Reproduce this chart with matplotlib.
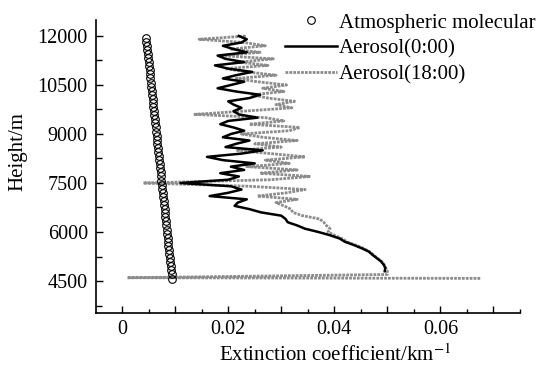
import matplotlib
matplotlib.use("Agg")
import matplotlib.pyplot as plt
from matplotlib.ticker import MultipleLocator, FuncFormatter

plt.rcParams["font.family"] = ["Liberation Serif", "DejaVu Serif"]
plt.rcParams["mathtext.fontset"] = "stix"

# molecular extinction profile (circles)
mol_height = [4575, 4700, 4825, 4950, 5075, 5200, 5325, 5450, 5575, 5700,
              5825, 5950, 6075, 6200, 6325, 6450, 6575, 6700, 6825, 6950,
              7075, 7200, 7325, 7450, 7575, 7700, 7825, 7950, 8075, 8200,
              8325, 8450, 8575, 8700, 8825, 8950, 9075, 9200, 9325, 9450,
              9575, 9700, 9825, 9950, 10075, 10200, 10325, 10450, 10575, 10700,
              10825, 10950, 11075, 11200, 11325, 11450, 11575, 11700, 11825, 11950]
mol_ext = [0.00940, 0.00932, 0.00923, 0.00915, 0.00907, 0.00899, 0.00890, 0.00882, 0.00874, 0.00865,
           0.00857, 0.00849, 0.00840, 0.00832, 0.00824, 0.00816, 0.00807, 0.00799, 0.00791, 0.00782,
           0.00774, 0.00766, 0.00757, 0.00749, 0.00741, 0.00733, 0.00724, 0.00716, 0.00708, 0.00699,
           0.00691, 0.00683, 0.00674, 0.00666, 0.00658, 0.00650, 0.00641, 0.00633, 0.00625, 0.00616,
           0.00608, 0.00600, 0.00591, 0.00583, 0.00575, 0.00567, 0.00558, 0.00550, 0.00542, 0.00533,
           0.00525, 0.00517, 0.00508, 0.00500, 0.00492, 0.00484, 0.00475, 0.00467, 0.00459, 0.00450]

# aerosol 0:00
h_0000 = [4800, 4900, 5000, 5100, 5200, 5300, 5400, 5500, 5600, 5700,
          5800, 5900, 6000, 6100, 6200, 6300, 6400, 6500, 6600, 6700,
          6800, 6900, 7000, 7100, 7200, 7300, 7400, 7500, 7600, 7700,
          7800, 7900, 8000, 8100, 8200, 8300, 8400, 8500, 8600, 8700,
          8800, 8900, 9000, 9100, 9200, 9300, 9400, 9500, 9600, 9700,
          9800, 9900, 10000, 10100, 10200, 10300, 10400, 10500, 10600, 10700,
          10800, 10900, 11000, 11100, 11200, 11300, 11400, 11500, 11600, 11700,
          11800, 11900, 12000]
ext_0000 = [0.0495, 0.0496, 0.0493, 0.0488, 0.0480, 0.0472, 0.0465, 0.0452, 0.0437, 0.0420,
            0.0410, 0.0392, 0.0370, 0.0345, 0.0330, 0.0312, 0.0308, 0.0300, 0.0262, 0.0240,
            0.0212, 0.0218, 0.0235, 0.0165, 0.0200, 0.0225, 0.0205, 0.0110, 0.0200, 0.0220,
            0.0185, 0.0230, 0.0205, 0.0250, 0.0190, 0.0160, 0.0225, 0.0265, 0.0195, 0.0215,
            0.0240, 0.0190, 0.0205, 0.0230, 0.0210, 0.0185, 0.0200, 0.0255, 0.0220, 0.0210,
            0.0225, 0.0210, 0.0200, 0.0240, 0.0260, 0.0215, 0.0180, 0.0205, 0.0230, 0.0190,
            0.0215, 0.0245, 0.0200, 0.0175, 0.0230, 0.0195, 0.0180, 0.0235, 0.0210, 0.0190,
            0.0225, 0.0235, 0.0220]

# aerosol 18:00
h_1800 = [4580, 4600, 4700, 4800, 4900, 5000, 5100, 5200, 5300, 5400,
          5500, 5600, 5700, 5800, 5900, 6000, 6100, 6200, 6300, 6400,
          6500, 6600, 6700, 6800, 6900, 7000, 7100, 7200, 7300, 7400,
          7500, 7600, 7700, 7800, 7900, 8000, 8100, 8200, 8300, 8400,
          8500, 8600, 8700, 8800, 8900, 9000, 9100, 9200, 9300, 9400,
          9500, 9600, 9700, 9800, 9900, 10000, 10100, 10200, 10300, 10400,
          10500, 10600, 10700, 10800, 10900, 11000, 11100, 11200, 11300, 11400,
          11500, 11600, 11700, 11800, 11900, 12000]
ext_1800 = [0.0675, 0.0010, 0.0500, 0.0500, 0.0497, 0.0494, 0.0489, 0.0481, 0.0474, 0.0466,
            0.0455, 0.0440, 0.0424, 0.0414, 0.0400, 0.0388, 0.0392, 0.0385, 0.0380, 0.0372,
            0.0340, 0.0322, 0.0318, 0.0305, 0.0290, 0.0330, 0.0255, 0.0310, 0.0345, 0.0240,
            0.0040, 0.0280, 0.0355, 0.0260, 0.0330, 0.0235, 0.0315, 0.0270, 0.0345, 0.0280,
            0.0215, 0.0300, 0.0250, 0.0330, 0.0265, 0.0225, 0.0315, 0.0335, 0.0240, 0.0305,
            0.0270, 0.0135, 0.0230, 0.0320, 0.0290, 0.0325, 0.0275, 0.0245, 0.0305, 0.0265,
            0.0310, 0.0255, 0.0215, 0.0290, 0.0235, 0.0195, 0.0275, 0.0220, 0.0285, 0.0185,
            0.0260, 0.0205, 0.0270, 0.0230, 0.0145, 0.0235]

fig = plt.figure(figsize=(5.4, 3.7), dpi=100)
ax = fig.add_axes([0.178, 0.154, 0.785, 0.792])

ax.plot(mol_ext, mol_height, "o", mfc="none", mec="black", ms=5.5, mew=0.8,
        label="Atmospheric molecular", zorder=3)
ax.plot(ext_0000, h_0000, color="black", lw=1.8, label="Aerosol(0:00)", zorder=2)
ax.plot(ext_1800, h_1800, color="0.55", lw=2.0, linestyle=(0, (1.0, 0.4)),
        label="Aerosol(18:00)", zorder=1)

ax.set_xlim(-0.0049, 0.075)
ax.set_ylim(3520, 12490)

for side in ["top", "right"]:
    ax.spines[side].set_visible(False)
ax.spines["left"].set_linewidth(1.2)
ax.spines["bottom"].set_linewidth(1.2)

ax.xaxis.set_major_locator(MultipleLocator(0.01))
ax.xaxis.set_minor_locator(MultipleLocator(0.005))
ax.xaxis.set_major_formatter(FuncFormatter(
    lambda v, p: ("0" if abs(v) < 1e-9 else f"{v:.2f}") if round(v * 100) % 2 == 0 else ""))
ax.yaxis.set_major_locator(MultipleLocator(1500))
ax.yaxis.set_minor_locator(MultipleLocator(750))

ax.tick_params(which="both", direction="in", labelsize=14.5, width=1)
ax.tick_params(axis="x", which="major", length=5, pad=5)
ax.tick_params(axis="x", which="minor", length=3)
ax.tick_params(axis="y", which="major", length=5, pad=6)
ax.tick_params(axis="y", which="minor", length=4)

ax.set_ylabel("Height/m", fontsize=15)
ax.yaxis.set_label_coords(-0.163, 0.55)
ax.set_xlabel("Extinction coefficient/km$^{-1}$", fontsize=15)
ax.xaxis.set_label_coords(0.564, -0.108)

leg = fig.legend(loc="upper left", bbox_to_anchor=(0.528, 0.965), frameon=False,
                 fontsize=15, handlelength=2.5, handletextpad=0.1,
                 labelspacing=0.3, borderpad=0, borderaxespad=0)

plt.savefig("out.png", dpi=100)
plt.close()
